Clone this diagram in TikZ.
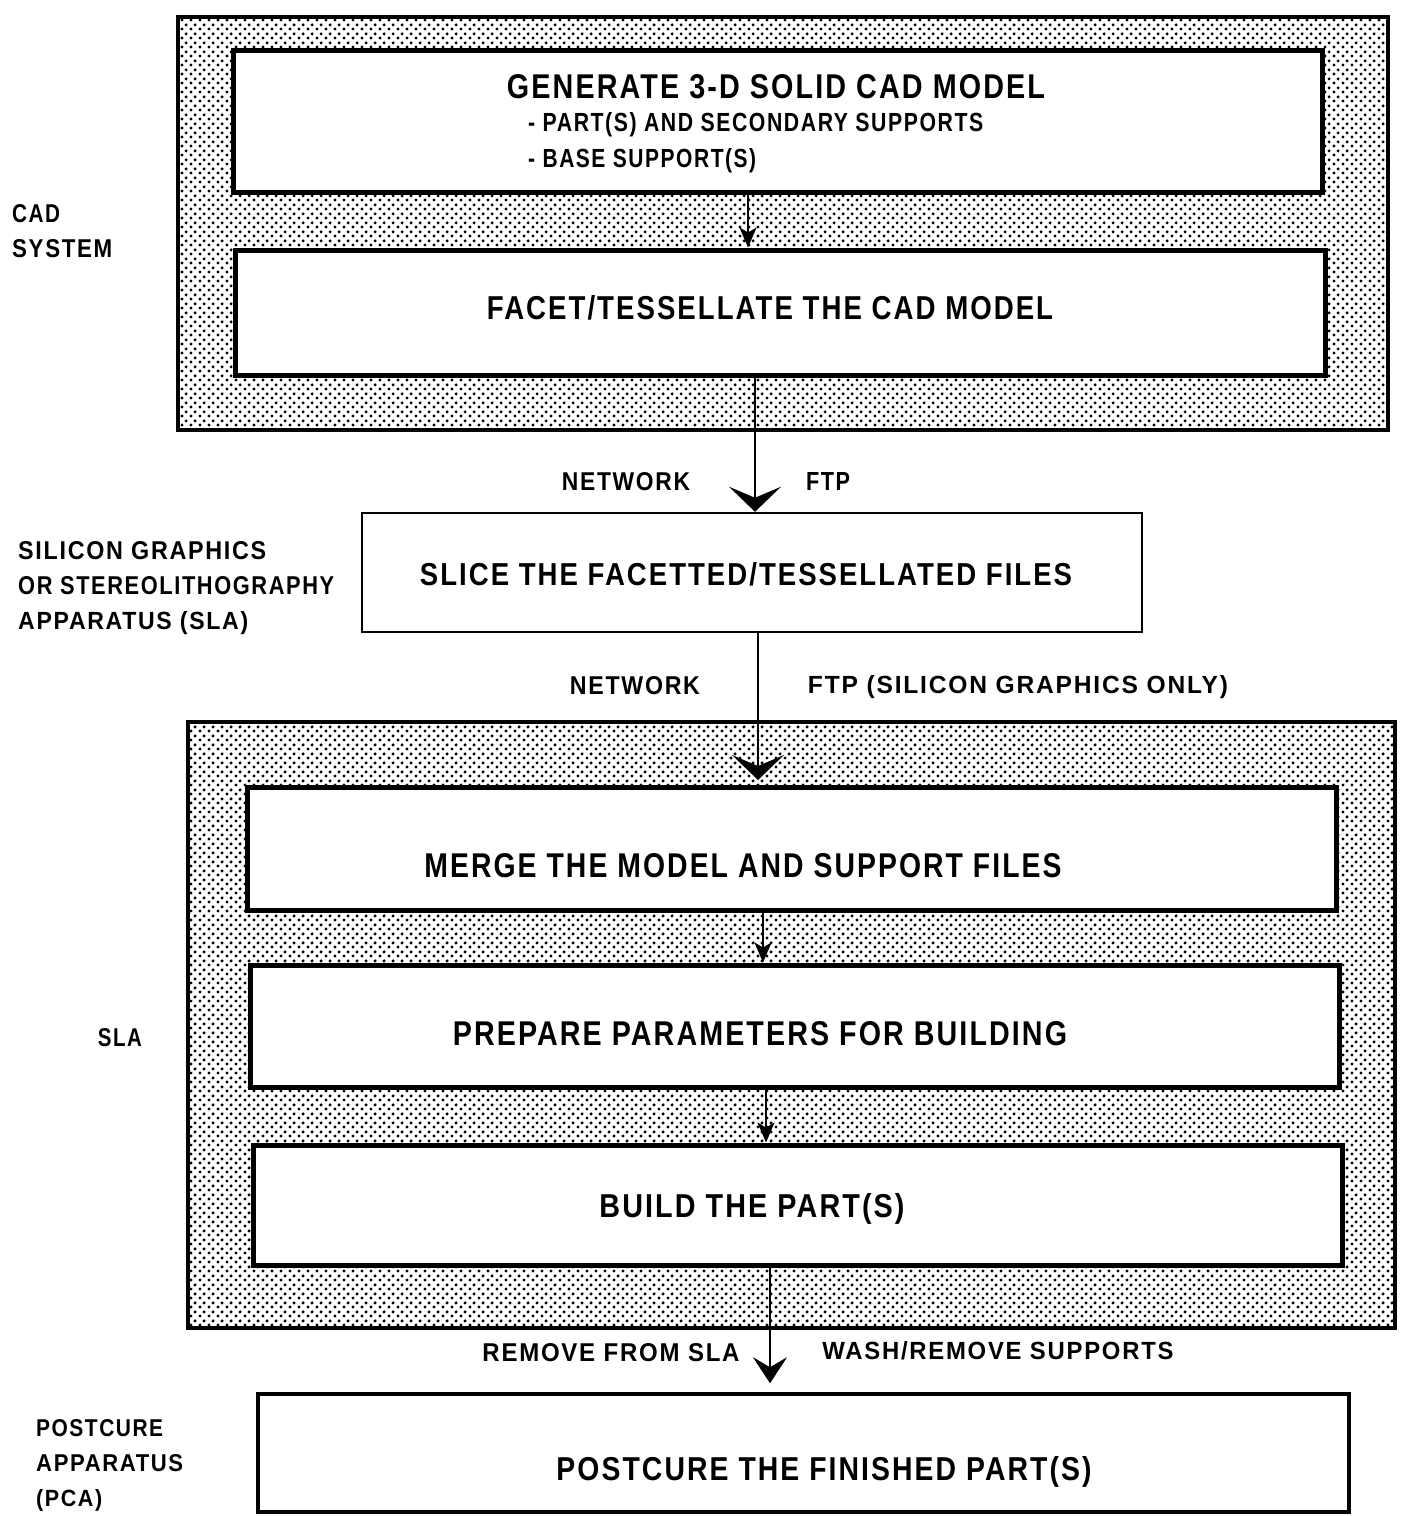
\documentclass[tikz,border=0pt]{standalone}
\usepackage{fontspec}
\setmainfont[FakeStretch=0.82,LetterSpace=6]{Liberation Sans}
\usepackage{graphicx}
\usetikzlibrary{arrows.meta,patterns}

% staggered dot screen for the system zones
\pgfdeclarepatternformonly{stipple}{\pgfqpoint{0pt}{0pt}}{\pgfqpoint{9pt}{9pt}}{\pgfqpoint{9pt}{9pt}}{%
  \pgfpathcircle{\pgfqpoint{2.25pt}{2.25pt}}{1.85pt}%
  \pgfpathcircle{\pgfqpoint{6.75pt}{6.75pt}}{1.85pt}%
  \pgfusepath{fill}}

% text set to a given width and cap height
\newcommand\sizedtext[3]{\resizebox{#1pt}{#2pt}{\bfseries #3}}

\tikzset{
  zone/.style={draw, line width=4pt, pattern=stipple},
  stepbox/.style={draw, line width=5pt, fill=white},
  plainbox/.style={draw, line width=2.5pt, fill=white},
  caption/.style={inner sep=0pt, anchor=base},
  sidelabel/.style={inner sep=0pt, anchor=north west, align=left,
    font=\bfseries\fontsize{20}{35}\selectfont},
  link/.style={line width=2.5pt},
  bighead/.style={-{Stealth[length=25pt,width=52pt,inset=11pt]}},
  smallhead/.style={-{Stealth[length=20pt,width=17pt,inset=5pt]}},
  midhead/.style={-{Stealth[length=26pt,width=34pt,inset=10pt]}},
}

\begin{document}
\begin{tikzpicture}[x=1pt,y=-1pt]
\useasboundingbox (0,0) rectangle (1413,1516);

% shaded system zones
\node[zone, minimum width=1210pt, minimum height=413pt] (cadzone) at (783,223.5) {};
\node[zone, minimum width=1207pt, minimum height=606pt] (slazone) at (791.5,1025) {};

% process steps
\node[stepbox, minimum width=1089pt, minimum height=142pt] (gen) at (777.5,121) {};
\node[stepbox, minimum width=1090pt, minimum height=125pt] (facet) at (780,312.5) {};
\node[plainbox, minimum width=780pt, minimum height=119pt] (slice) at (752,572.5) {};
\node[stepbox, minimum width=1089pt, minimum height=123pt] (merge) at (791.5,848.5) {};
\node[stepbox, minimum width=1089pt, minimum height=122pt] (prepare) at (794.5,1026) {};
\node[stepbox, minimum width=1089pt, minimum height=120pt] (build) at (797.5,1205) {};
\node[plainbox, line width=3.5pt, minimum width=1091pt, minimum height=118pt] (postcure) at (803.5,1453) {};

% step texts
\node[caption] (tgen) at (776,98) {\sizedtext{538}{24}{GENERATE 3-D SOLID CAD MODEL}};
\node[caption, anchor=base west] (tpart) at (528,131.5) {\sizedtext{455}{19}{- PART(S) AND SECONDARY SUPPORTS}};
\node[caption, anchor=base west] (tbase) at (528,167.5) {\sizedtext{228}{19}{- BASE SUPPORT(S)}};
\node[caption] (tfacet) at (770,319) {\sizedtext{566}{24}{FACET/TESSELLATE THE CAD MODEL}};
\node[caption] (tslice) at (746,585.5) {\sizedtext{652}{23}{SLICE THE FACETTED/TESSELLATED FILES}};
\node[caption] (tmerge) at (743,877) {\sizedtext{637}{24}{MERGE THE MODEL AND SUPPORT FILES}};
\node[caption] (tprepare) at (760,1045) {\sizedtext{614}{24}{PREPARE PARAMETERS FOR BUILDING}};
\node[caption] (tbuild) at (752,1217) {\sizedtext{305}{24}{BUILD THE PART(S)}};
\node[caption] (tpostcure) at (824,1480) {\sizedtext{535}{24}{POSTCURE THE FINISHED PART(S)}};

% connectors
\coordinate (a1) at (748,0);
\coordinate (a2) at (755,0);
\coordinate (a3) at (758,0);
\coordinate (a4) at (763,0);
\coordinate (a5) at (766,0);
\coordinate (a6) at (770,0);
\coordinate (e3) at (758,780);

\draw[link, smallhead] (gen.south -| a1) -- (facet.north -| a1);
\draw[link, bighead] (facet.south -| a2) -- (slice.north -| a2);
\draw[link, bighead] (slice.south -| a3) -- (e3);
\draw[link, smallhead] (merge.south -| a4) -- (prepare.north -| a4);
\draw[link, smallhead] (prepare.south -| a5) -- (build.north -| a5);
\draw[link, midhead, shorten >=9pt] (build.south -| a6) -- (postcure.north -| a6);

% transfer labels
\node[caption] (net1) at (626,490) {\sizedtext{128}{18}{NETWORK}};
\node[caption] (ftp1) at (828,490) {\sizedtext{44}{18}{FTP}};
\node[caption] (net2) at (635,694) {\sizedtext{130}{18}{NETWORK}};
\node[caption] (ftp2) at (1018,693) {\sizedtext{420}{18}{FTP (SILICON GRAPHICS ONLY)}};
\node[caption] (remove) at (611,1361) {\sizedtext{257}{18}{REMOVE FROM SLA}};
\node[caption] (wash) at (998,1359) {\sizedtext{351}{18}{WASH/REMOVE SUPPORTS}};

% equipment labels
\node[sidelabel] (lcad) at (12,204) {\sizedtext{48}{18}{CAD}\\\sizedtext{100}{18}{SYSTEM}};
\node[sidelabel] (lsg) at (18,541) {\sizedtext{248}{18}{SILICON GRAPHICS}\\\sizedtext{316}{18}{OR STEREOLITHOGRAPHY}\\\sizedtext{230}{18}{APPARATUS (SLA)}};
\node[caption] (lsla) at (120,1046) {\sizedtext{44}{18}{SLA}};
\node[sidelabel] (lpca) at (36,1419) {\sizedtext{127}{17}{POSTCURE}\\\sizedtext{147}{17}{APPARATUS}\\\sizedtext{66}{17}{(PCA)}};
\end{tikzpicture}
\end{document}
